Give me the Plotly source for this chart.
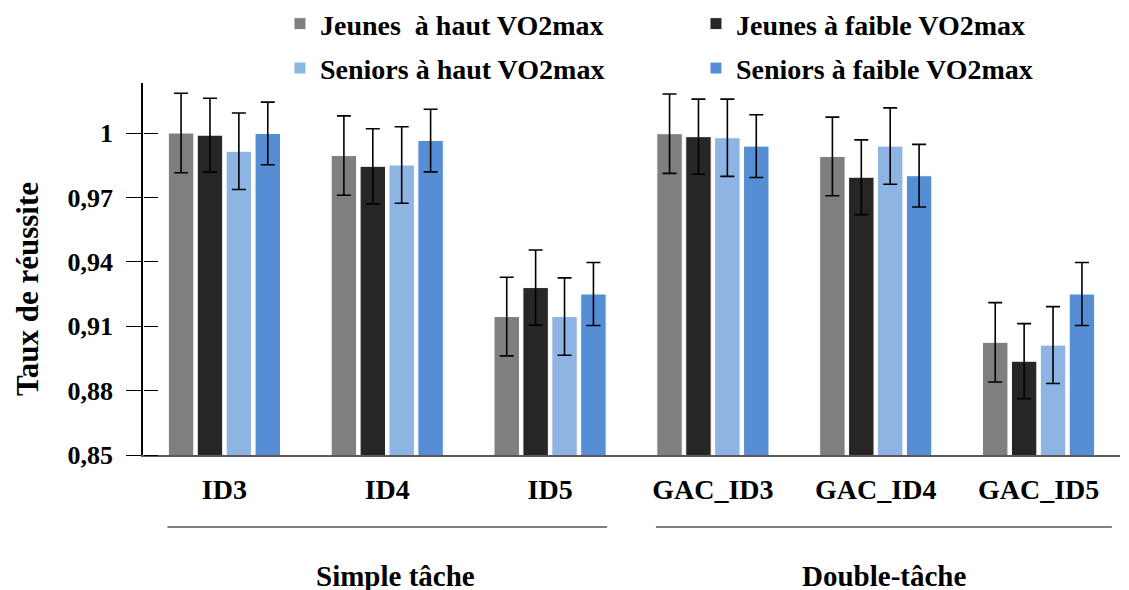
import plotly.graph_objects as go

categories = ["ID3", "ID4", "ID5", "GAC_ID3", "GAC_ID4", "GAC_ID5"]
series_names = ["Jeunes  à haut VO2max", "Jeunes à faible VO2max",
                "Seniors à haut VO2max", "Seniors à faible VO2max"]
jeunes_haut = [1.000, 0.9895, 0.9145, 0.9997, 0.9891, 0.9025]
jeunes_faible = [0.999, 0.9845, 0.928, 0.9983, 0.9794, 0.8937]
seniors_haut = [0.9915, 0.9851, 0.9145, 0.9978, 0.9939, 0.9012]
seniors_faible = [0.9998, 0.9965, 0.925, 0.9939, 0.9801, 0.925]
err_jeunes_haut = [0.0185, 0.0185, 0.0183, 0.0185, 0.0183, 0.0185]
err_jeunes_faible = [0.0172, 0.0175, 0.0175, 0.0175, 0.0174, 0.0175]
err_seniors_haut = [0.0178, 0.0178, 0.018, 0.018, 0.0178, 0.0179]
err_seniors_faible = [0.0146, 0.0146, 0.0147, 0.0146, 0.0146, 0.0147]
colors = ["#7f7f7f", "#262626", "#8eb4e3", "#558ed5"]
tick_vals = [0.85, 0.88, 0.91, 0.94, 0.97, 1.0]
tick_text = ["0,85", "0,88", "0,91", "0,94", "0,97", "1"]
group_labels = ["Simple tâche", "Double-tâche"]
y_title = "Taux de réussite"

FONT = "Liberation Serif"
values = [jeunes_haut, jeunes_faible, seniors_haut, seniors_faible]
errors = [err_jeunes_haut, err_jeunes_faible, err_seniors_haut, err_seniors_faible]
legends = ["legend", "legend2", "legend", "legend2"]

fig = go.Figure()
for i in range(4):
    fig.add_trace(go.Bar(
        x=categories, y=values[i], name=series_names[i],
        marker=dict(color=colors[i], line=dict(color="white", width=1)),
        error_y=dict(type="data", array=errors[i], visible=True,
                     color="black", thickness=1.6, width=7),
        legend=legends[i], legendgroup=f"g{i}",
    ))

# invisible trace carrying the inner half of the y-axis tick marks
fig.add_trace(go.Scatter(x=[categories[0]], y=[tick_vals[0]], yaxis="y2",
                         mode="markers", marker=dict(opacity=0),
                         showlegend=False, hoverinfo="skip"))

legend_font = dict(family=FONT, size=28, color="black", weight="bold")
fig.update_layout(
    width=1129, height=590,
    margin=dict(l=135, r=17, t=75, b=143, autoexpand=False),
    paper_bgcolor="white", plot_bgcolor="white",
    barmode="group", bargap=0.29, bargroupgap=0.12,
    font=dict(family=FONT, color="black", weight="bold"),
    showlegend=True,
    legend=dict(x=0.1402, y=1.226, xanchor="left", yanchor="top", orientation="v",
                font=legend_font, tracegroupgap=5,
                bgcolor="rgba(0,0,0,0)", itemwidth=30),
    legend2=dict(x=0.566, y=1.226, xanchor="left", yanchor="top", orientation="v",
                 font=legend_font, tracegroupgap=5,
                 bgcolor="rgba(0,0,0,0)", itemwidth=30),
    xaxis=dict(showline=True, linecolor="#595959", linewidth=1.5,
               ticks="", showgrid=False, zeroline=False,
               tickfont=dict(family=FONT, size=28, color="black", weight="bold"),
               ticklabelstandoff=9),
    yaxis=dict(range=[0.85, 1.0233], tickvals=tick_vals, ticktext=tick_text,
               showline=True, linecolor="black", linewidth=1.5,
               ticks="outside", ticklen=15, tickwidth=1.3, tickcolor="black",
               showgrid=False, zeroline=False,
               tickfont=dict(family=FONT, size=26, color="black", weight="bold"),
               ticklabelstandoff=8),
    yaxis2=dict(range=[0.85, 1.0233], tickvals=tick_vals, overlaying="y",
                side="right", anchor="free", position=0, showline=False,
                ticks="outside", ticklen=14, tickwidth=1.3, tickcolor="black",
                showticklabels=False, showgrid=False, zeroline=False),
)

fig.add_annotation(text=y_title, xref="paper", yref="paper", x=-0.1187, y=0.446,
                   textangle=-90, showarrow=False, xanchor="center", yanchor="middle",
                   font=dict(family=FONT, size=31, color="black", weight="bold"))

line_spans = [(-0.35, 2.35), (2.65, 5.45)]
label_x = [1.05, 4.05]
for (x0, x1), lab, lx in zip(line_spans, group_labels, label_x):
    fig.add_shape(type="line", xref="x", yref="paper", x0=x0, x1=x1,
                  y0=-0.1935, y1=-0.1935, line=dict(color="black", width=1.2))
    fig.add_annotation(text=lab, xref="x", yref="paper", x=lx, y=-0.325,
                       showarrow=False, yanchor="middle",
                       font=dict(family=FONT, size=29, color="black", weight="bold"))

fig.write_html("out.html")
